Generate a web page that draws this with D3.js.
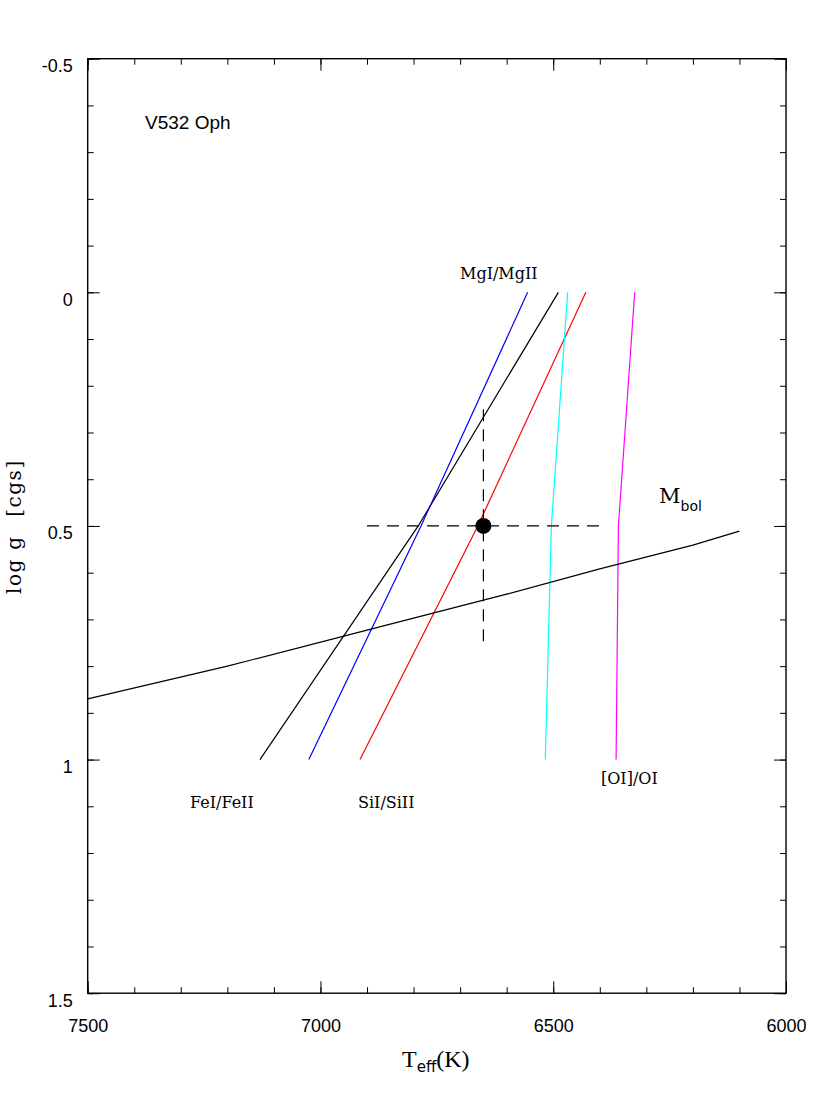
<!DOCTYPE html>
<html>
<head>
<meta charset="utf-8">
<script src="https://cdn.jsdelivr.net/npm/d3@7"></script>
<style>
  body { margin: 0; background: #fff; }
  svg { display: block; }
  .tick text { font-family: "Liberation Sans", Arial, sans-serif; font-size: 18px; fill: #000; }
  .tick line { stroke: #000; stroke-width: 1; }
</style>
</head>
<body>
<div class="chart"></div>
<script>
// log g grid on which the ionization-balance loci were computed
var logg = [1.0, 0.5, 0.0];
var teffFe = [7130, 6790, 6489];
var teffMg = [7025, 6784, 6555];
var teffSi = [6915, 6662, 6430];
var teffCyan = [6517, 6504, 6469];
var teffOI = [6365, 6360, 6325];

// Mbol track
var mbolTeff = [7500, 7200, 6900, 6600, 6400, 6200, 6100];
var mbolLogg = [0.870, 0.800, 0.723, 0.646, 0.592, 0.541, 0.511];

// adopted parameters
var starTeff = 6650, starLogg = 0.5;
var errTeff = 250, errLogg = 0.25;

var xTicks = [7500, 7000, 6500, 6000];
var yTicks = [-0.5, 0, 0.5, 1, 1.5];

var width = 830,
    height = 1106;
var pLeft = 87.7, pRight = 786, pTop = 58.7, pBottom = 993.2;

var svg = d3.select(".chart").append("svg")
    .attr("width", width)
    .attr("height", height);

var x = d3.scaleLinear().domain([7500, 6000]).range([pLeft, pRight]);
var y = d3.scaleLinear().domain([-0.5, 1.5]).range([pTop, pBottom]);

var minorX = d3.range(6000, 7501, 100);
var minorY = d3.range(-5, 16).map(function(d) { return d / 10; });

// minor ticks on all four sides
svg.append("g").attr("transform", "translate(0," + pBottom + ")")
    .call(d3.axisBottom(x).tickValues(minorX).tickSize(-6).tickFormat(""));
svg.append("g").attr("transform", "translate(0," + pTop + ")")
    .call(d3.axisTop(x).tickValues(minorX).tickSize(-6).tickFormat(""));
svg.append("g").attr("transform", "translate(" + pLeft + ",0)")
    .call(d3.axisLeft(y).tickValues(minorY).tickSize(-6).tickFormat(""));
svg.append("g").attr("transform", "translate(" + pRight + ",0)")
    .call(d3.axisRight(y).tickValues(minorY).tickSize(-6).tickFormat(""));

// major ticks
svg.append("g").attr("transform", "translate(0," + pBottom + ")")
    .call(d3.axisBottom(x).tickValues(xTicks).tickSize(-12).tickPadding(26).tickFormat(function(d) { return String(d); }));
svg.append("g").attr("transform", "translate(0," + pTop + ")")
    .call(d3.axisTop(x).tickValues(xTicks).tickSize(-12).tickFormat(""));
svg.append("g").attr("transform", "translate(" + pLeft + ",0)")
    .call(d3.axisLeft(y).tickValues(yTicks).tickSize(-12).tickPadding(15).tickFormat(function(d) { return String(d); }))
  .selectAll("text").attr("dy", "0.72em");
svg.append("g").attr("transform", "translate(" + pRight + ",0)")
    .call(d3.axisRight(y).tickValues(yTicks).tickSize(-12).tickFormat(""));

svg.selectAll(".domain").remove();

svg.append("rect")
    .attr("x", pLeft).attr("y", pTop)
    .attr("width", pRight - pLeft).attr("height", pBottom - pTop)
    .attr("fill", "none").attr("stroke", "#000").attr("stroke-width", 1.4);

var line = d3.line()
    .x(function(d) { return x(d[0]); })
    .y(function(d) { return y(d[1]); });

var loci = [
  { t: teffFe, color: "#000000" },
  { t: teffMg, color: "#0000ff" },
  { t: teffSi, color: "#ff0000" },
  { t: teffCyan, color: "#00ffff" },
  { t: teffOI, color: "#ff00ff" }
];

svg.append("g").selectAll("path")
    .data(loci)
    .enter().append("path")
    .attr("d", function(d) { return line(d.t.map(function(t, i) { return [t, logg[i]]; })); })
    .attr("fill", "none")
    .attr("stroke", function(d) { return d.color; })
    .attr("stroke-width", 1.2);

svg.append("path")
    .attr("d", line(mbolTeff.map(function(t, i) { return [t, mbolLogg[i]]; })))
    .attr("fill", "none")
    .attr("stroke", "#000")
    .attr("stroke-width", 1.2);

// error cross
svg.append("line")
    .attr("x1", x(starTeff + errTeff)).attr("x2", x(starTeff - errTeff))
    .attr("y1", y(starLogg)).attr("y2", y(starLogg))
    .attr("stroke", "#000").attr("stroke-width", 1.2).attr("stroke-dasharray", "12,8");
svg.append("line")
    .attr("x1", x(starTeff)).attr("x2", x(starTeff))
    .attr("y1", y(starLogg - errLogg)).attr("y2", y(starLogg + errLogg))
    .attr("stroke", "#000").attr("stroke-width", 1.2).attr("stroke-dasharray", "12,8");
svg.append("circle")
    .attr("cx", x(starTeff)).attr("cy", y(starLogg))
    .attr("r", 8).attr("fill", "#000");

// labels
var serif = "'DejaVu Serif', serif";
svg.append("text")
    .attr("x", 145).attr("y", 129)
    .attr("font-family", "'Liberation Sans', Arial, sans-serif").attr("font-size", 19)
    .text("V532 Oph");

var lineLabels = [
  { text: "MgI/MgII", x: 460, y: 279 },
  { text: "FeI/FeII", x: 190, y: 808 },
  { text: "SiI/SiII", x: 358, y: 808 },
  { text: "[OI]/OI", x: 601, y: 784 }
];
svg.selectAll(".lbl")
    .data(lineLabels)
    .enter().append("text")
    .attr("class", "lbl")
    .attr("x", function(d) { return d.x; })
    .attr("y", function(d) { return d.y; })
    .attr("font-family", serif).attr("font-size", 16)
    .text(function(d) { return d.text; });

var mb = svg.append("text").attr("x", 659).attr("y", 503)
    .attr("font-family", serif).attr("font-size", 21);
mb.append("tspan").text("M");
mb.append("tspan").attr("dy", 8)
    .attr("font-family", "'DejaVu Sans', sans-serif").attr("font-size", 14).text("bol");

var xl = svg.append("text").attr("x", 402).attr("y", 1067)
    .attr("font-family", "'Liberation Serif', serif").attr("font-size", 24);
xl.append("tspan").text("T");
xl.append("tspan").attr("dy", 5)
    .attr("font-family", "'DejaVu Sans', sans-serif").attr("font-size", 15).text("eff");
xl.append("tspan").attr("dy", -5).text("(K)");

var yl = [
  { text: "log", c: 576 },
  { text: "g", c: 542.5 },
  { text: "[cgs]", c: 488 }
];
svg.selectAll(".ylab")
    .data(yl)
    .enter().append("text")
    .attr("class", "ylab")
    .attr("transform", function(d) { return "translate(21," + d.c + ") rotate(-90)"; })
    .attr("text-anchor", "middle")
    .attr("font-family", serif).attr("font-size", 20)
    .attr("letter-spacing", 1.5)
    .text(function(d) { return d.text; });
</script>
</body>
</html>
